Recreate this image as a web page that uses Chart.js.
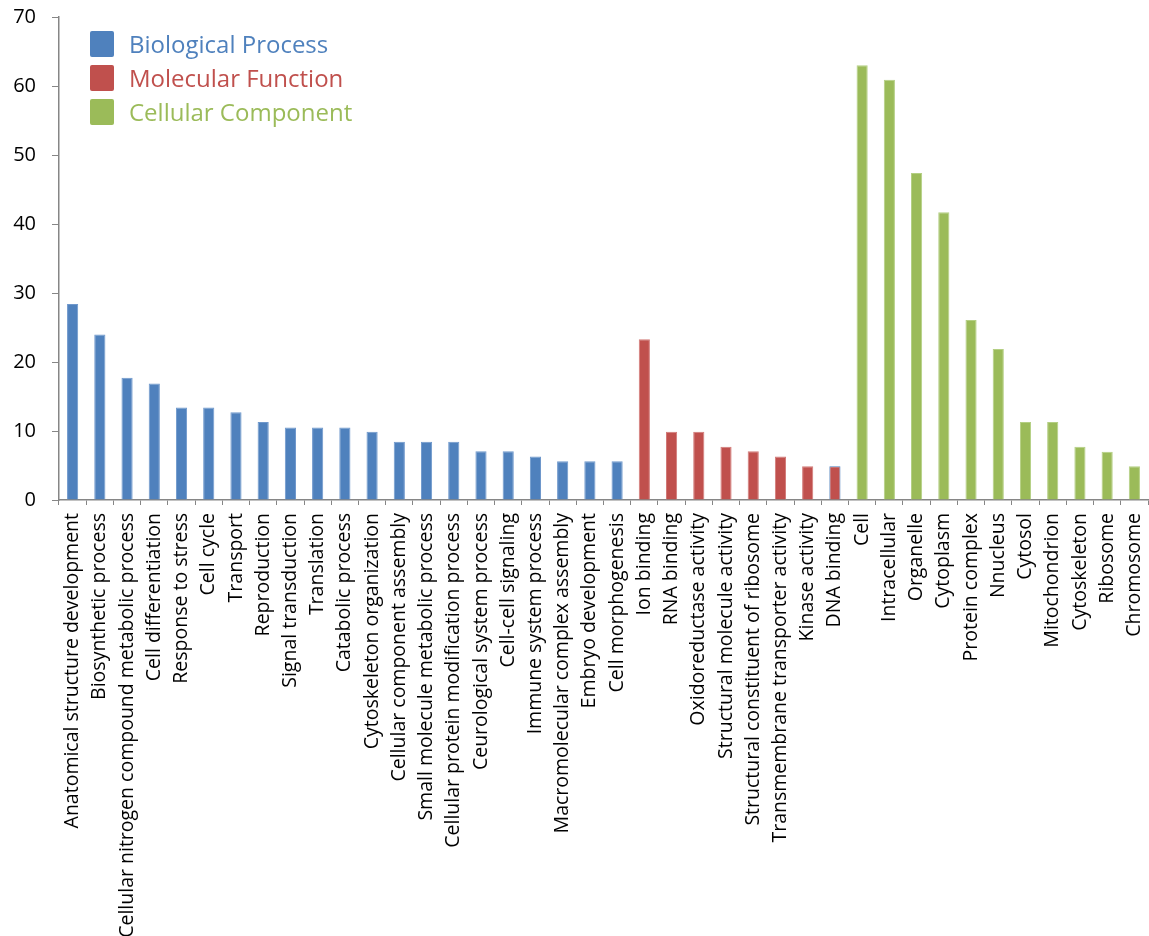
<!DOCTYPE html>
<html>
<head>
<meta charset="utf-8">
<script src="https://cdn.jsdelivr.net/npm/chart.js@4.4.0/dist/chart.umd.min.js"></script>
<style>
  html, body { margin: 0; padding: 0; background: #fff; }
  #wrap { width: 1149px; height: 936px; }
</style>
</head>
<body>
<div id="wrap"><canvas id="goChart" width="1149" height="936"></canvas></div>
<script>
// GO term categories (x axis)
const bpTerms = ['Anatomical structure development', 'Biosynthetic process', 'Cellular nitrogen compound metabolic process',
  'Cell differentiation', 'Response to stress', 'Cell cycle', 'Transport', 'Reproduction', 'Signal transduction',
  'Translation', 'Catabolic process', 'Cytoskeleton organization', 'Cellular component assembly',
  'Small molecule metabolic process', 'Cellular protein modification process', 'Ceurological system process',
  'Cell-cell signaling', 'Immune system process', 'Macromolecular complex assembly', 'Embryo development',
  'Cell morphogenesis'];
const mfTerms = ['Ion binding', 'RNA binding', 'Oxidoreductase activity', 'Structural molecule activity',
  'Structural constituent of ribosome', 'Transmembrane transporter activity', 'Kinase activity', 'DNA binding'];
const ccTerms = ['Cell', 'Intracellular', 'Organelle', 'Cytoplasm', 'Protein complex', 'Nnucleus', 'Cytosol',
  'Mitochondrion', 'Cytoskeleton', 'Ribosome', 'Chromosome'];

// values
const bpValues = [28.4, 24.0, 17.7, 16.9, 13.4, 13.4, 12.7, 11.3, 10.5, 10.5, 10.5, 9.9, 8.45, 8.45, 8.45,
  7.05, 7.05, 6.3, 5.6, 5.6, 5.6];
const mfValues = [23.3, 9.9, 9.9, 7.7, 7.05, 6.3, 4.9, 4.9];
const ccValues = [63.0, 60.9, 47.4, 41.7, 26.1, 21.9, 11.3, 11.3, 7.7, 7.0, 4.9];

const yTicks = [0, 10, 20, 30, 40, 50, 60, 70];

const seriesNames = ['Biological Process', 'Molecular Function', 'Cellular Component'];
const seriesColors = ['#4F81BD', '#C0504D', '#9BBB59'];
const borderColors = ['#6f98cc', '#d27a78', '#b4cf83'];

const labels = bpTerms.concat(mfTerms, ccTerms);

// pad each series with nulls so every group sits on its own categories
function spread(values, before, after) {
  return Array(before).fill(null).concat(values, Array(after).fill(null));
}

const bpData = spread(bpValues, 0, mfTerms.length + ccTerms.length);
const mfData = spread(mfValues, bpTerms.length, ccTerms.length);
const ccData = spread(ccValues, bpTerms.length + mfTerms.length, 0);

// the DNA binding bar has a blue outline in the original
const mfBorders = mfData.map((v, i) => labels[i] === 'DNA binding' ? seriesColors[0] : borderColors[1]);

const FONT = "'Open Sans', sans-serif";

// legend drawn inside the plot area, top left, text in the series colour
const insideLegend = {
  id: 'insideLegend',
  afterDraw(chart) {
    const c = chart.ctx;
    const area = chart.chartArea;
    c.save();
    c.font = '24px ' + FONT;
    c.textBaseline = 'middle';
    chart.data.datasets.forEach((ds, i) => {
      const y = area.top + 27 + i * 34;
      c.fillStyle = ds.backgroundColor;
      c.beginPath();
      c.roundRect(area.left + 31, y - 13, 24, 26, 2);
      c.fill();
      c.fillText(ds.label, area.left + 70, y + 2);
    });
    c.restore();
  }
};

const ctx = document.getElementById('goChart').getContext('2d');
const chart = new Chart(ctx, {
  type: 'bar',
  data: {
    labels: labels,
    datasets: [
      { label: seriesNames[0], data: bpData, backgroundColor: seriesColors[0], borderColor: borderColors[0] },
      { label: seriesNames[1], data: mfData, backgroundColor: seriesColors[1], borderColor: mfBorders },
      { label: seriesNames[2], data: ccData, backgroundColor: seriesColors[2], borderColor: borderColors[2] }
    ]
  },
  options: {
    responsive: false,
    animation: false,
    layout: { padding: { top: 17, right: 1, left: 0, bottom: 0 } },
    datasets: {
      bar: { barPercentage: 0.41, categoryPercentage: 1.0, borderWidth: 1, skipNull: true }
    },
    plugins: {
      legend: { display: false },
      tooltip: { enabled: false }
    },
    scales: {
      x: {
        stacked: true,
        grid: { display: true, drawOnChartArea: false, offset: true, tickLength: 5, color: '#868686' },
        border: { color: '#868686', width: 1.5 },
        ticks: {
          autoSkip: false,
          minRotation: 90,
          maxRotation: 90,
          padding: 8,
          color: '#000',
          font: { family: FONT, size: 19.5 }
        },
        afterFit(scale) {
          scale.height = 436;
          scale.paddingLeft = 0;
          scale.paddingRight = 0;
        }
      },
      y: {
        stacked: true,
        min: 0,
        max: 70,
        afterBuildTicks(scale) { scale.ticks = yTicks.map(v => ({ value: v })); },
        grid: { display: true, drawOnChartArea: false, tickLength: 7, color: '#868686' },
        border: { color: '#868686', width: 1.5 },
        ticks: {
          padding: 16,
          color: '#000',
          font: { family: FONT, size: 20 }
        },
        afterFit(scale) {
          scale.width = 59;
          scale.paddingTop = 0;
          scale.paddingBottom = 0;
        }
      }
    }
  },
  plugins: [insideLegend]
});
</script>
</body>
</html>
